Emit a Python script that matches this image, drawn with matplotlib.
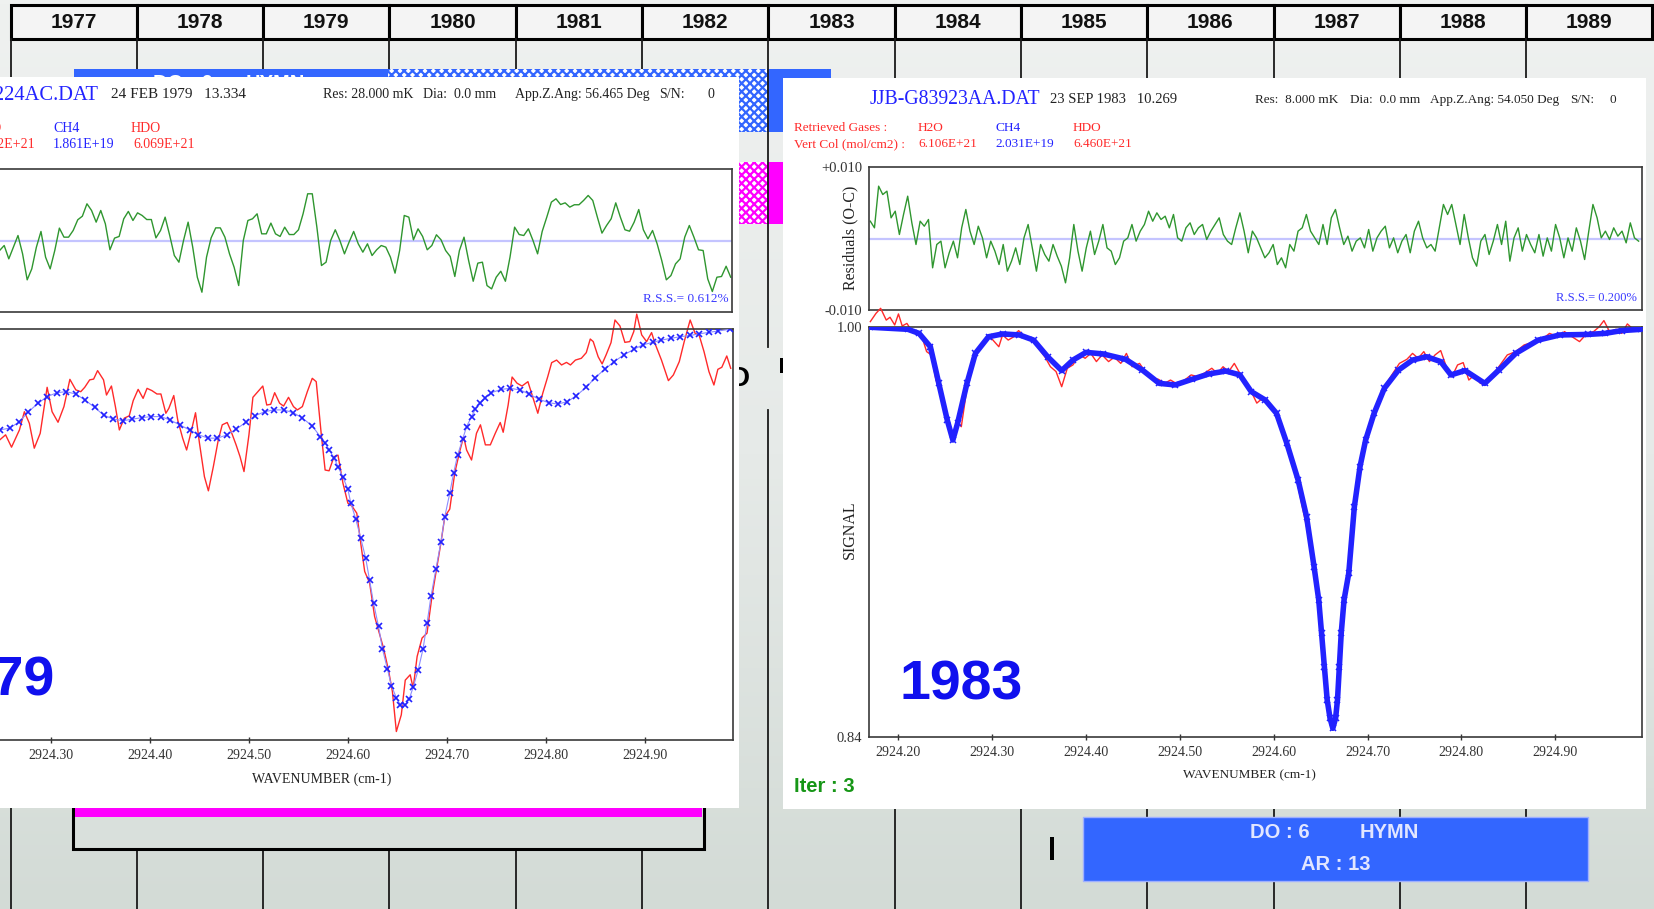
import numpy as np
import matplotlib.pyplot as plt
from matplotlib.patches import Rectangle
from matplotlib.colors import LinearSegmentedColormap

W, H = 1654, 909
plt.rcParams['hatch.linewidth'] = 1.6

years = [str(y) for y in range(1977, 1990)]

# right panel (23 SEP 1983): residuals in units of 1e-3, sampled evenly over 2924.170 - 2924.989
res_r = [2.42, 1.49, 7.32, 6.15, 6.62, 2.89, 3.82, 0.56, 3.36, 5.92, 2.19, -0.84, 2.42, 1.72, 2.66, -4.10,
         -0.84, -0.37, -4.10, -2.00, -0.37, -2.70, 1.49, 4.06, 1.03, -0.84, 1.72, 0.09, -2.70, -0.37, -1.77,
         -3.64, -0.84, -4.57, -3.17, -1.31, -3.64, 0.09, 1.96, -1.31, -4.57, -0.84, -2.24, -3.17, -0.84, -2.47,
         -3.87, -6.20, -2.70, 1.96, -1.77, -4.57, -1.31, 1.03, -2.24, -0.37, 1.96, -1.31, -1.77, -3.64, -2.70,
         -0.37, 0.09, 1.96, -0.37, 1.03, 1.96, 3.82, 2.42, 3.59, 2.66, 3.12, 1.49, 3.36, 0.09, -0.37, 1.49,
         2.19, 0.56, 1.49, 1.96, -0.14, 1.03, 1.96, 2.89, 0.56, -0.37, -0.84, 1.49, 3.59, 1.03, -2.00, 1.03,
         0.09, -1.31, -2.70, -2.00, -0.84, -3.64, -2.70, -4.10, -0.84, -1.77, 1.03, 1.49, 3.36, 1.03, 0.09,
         -0.84, 1.96, -0.84, 2.89, 4.06, 1.49, -0.84, 0.33, -1.77, -0.37, 0.09, -1.31, 1.26, -1.77, 0.09, 1.03,
         1.72, -1.31, 0.09, -2.00, -0.37, 0.56, -2.00, 1.03, 2.42, 0.09, -1.31, -0.84, -1.77, 1.49, 4.76, 3.36,
         4.76, 1.96, -0.84, 3.36, 0.09, -2.70, -3.87, -0.37, 0.56, -2.24, -0.37, 1.96, -0.84, 2.42, -3.17,
         0.09, 1.49, -1.77, 0.56, -0.84, -2.00, 0.56, -2.47, 0.09, -1.77, 1.96, 0.09, -2.70, 0.09, -1.77, 1.49,
         -0.37, -2.94, 1.03, 4.76, 2.89, 0.09, 1.03, -0.14, 1.49, 0.33, 1.03, -0.61, 2.19, 0.09, -0.37]

calc_r_wn = [2924.170, 2924.210, 2924.222, 2924.234, 2924.243, 2924.252, 2924.258, 2924.263, 2924.273, 2924.282,
             2924.296, 2924.311, 2924.329, 2924.344, 2924.359, 2924.374, 2924.386, 2924.400, 2924.418, 2924.442,
             2924.460, 2924.478, 2924.495, 2924.513, 2924.531, 2924.549, 2924.564, 2924.576, 2924.591, 2924.603,
             2924.614, 2924.626, 2924.635, 2924.643, 2924.648, 2924.651, 2924.654, 2924.657, 2924.660, 2924.663,
             2924.666, 2924.668, 2924.670, 2924.672, 2924.675, 2924.680, 2924.686, 2924.692, 2924.698, 2924.707,
             2924.718, 2924.733, 2924.748, 2924.763, 2924.778, 2924.789, 2924.804, 2924.825, 2924.840, 2924.858,
             2924.882, 2924.905, 2924.935, 2924.953, 2924.971, 2924.992]
calc_r = [0.9999, 0.9991, 0.9975, 0.9923, 0.9780, 0.9637, 0.9559, 0.9624, 0.9780, 0.9897,
          0.9962, 0.9973, 0.9969, 0.9949, 0.9884, 0.9830, 0.9871, 0.9901, 0.9895, 0.9874,
          0.9832, 0.9780, 0.9774, 0.9796, 0.9817, 0.9828, 0.9813, 0.9748, 0.9715, 0.9663,
          0.9546, 0.9403, 0.9260, 0.9065, 0.8935, 0.8806, 0.8675, 0.8545, 0.8474, 0.8434,
          0.8474, 0.8545, 0.8675, 0.8806, 0.8935, 0.9039, 0.9299, 0.9455, 0.9559, 0.9663,
          0.9761, 0.9832, 0.9871, 0.9884, 0.9865, 0.9813, 0.9830, 0.9780, 0.9832, 0.9897,
          0.9949, 0.9969, 0.9971, 0.9975, 0.9986, 0.9991]

obs_r_wn = [2924.170, 2924.176, 2924.181, 2924.187, 2924.191, 2924.196, 2924.200, 2924.204, 2924.209, 2924.214,
            2924.219, 2924.225, 2924.230, 2924.235, 2924.240, 2924.246, 2924.252, 2924.258, 2924.263, 2924.267,
            2924.273, 2924.279, 2924.283, 2924.288, 2924.294, 2924.300, 2924.307, 2924.311, 2924.317, 2924.323,
            2924.328, 2924.333, 2924.338, 2924.344, 2924.350, 2924.356, 2924.362, 2924.368, 2924.374, 2924.380,
            2924.386, 2924.393, 2924.399, 2924.405, 2924.411, 2924.417, 2924.424, 2924.430, 2924.437, 2924.443,
            2924.449, 2924.457, 2924.463, 2924.469, 2924.477, 2924.484, 2924.490, 2924.497, 2924.505, 2924.512,
            2924.519, 2924.527, 2924.534, 2924.540, 2924.546, 2924.552, 2924.558, 2924.564, 2924.570, 2924.576,
            2924.582, 2924.588, 2924.594, 2924.600, 2924.606, 2924.611, 2924.617, 2924.623, 2924.629, 2924.635,
            2924.641, 2924.648, 2924.654, 2924.660, 2924.663, 2924.666, 2924.670, 2924.675, 2924.680, 2924.686,
            2924.692, 2924.701, 2924.709, 2924.718, 2924.727, 2924.734, 2924.742, 2924.748, 2924.754, 2924.760,
            2924.766, 2924.772, 2924.778, 2924.784, 2924.790, 2924.796, 2924.802, 2924.808, 2924.814, 2924.820,
            2924.825, 2924.833, 2924.840, 2924.849, 2924.858, 2924.867, 2924.875, 2924.885, 2924.894, 2924.903,
            2924.910, 2924.918, 2924.926, 2924.934, 2924.941, 2924.947, 2924.952, 2924.958, 2924.965, 2924.971,
            2924.977, 2924.984, 2924.992]
obs_r = [1.0021, 1.0053, 1.0073, 1.0027, 1.0038, 1.0008, 1.0051, 1.0004, 1.0014, 0.9986,
         0.9975, 0.9962, 0.9904, 0.9891, 0.9793, 0.9735, 0.9657, 0.9566, 0.9631, 0.9611,
         0.9761, 0.9878, 0.9904, 0.9923, 0.9962, 0.9952, 0.9923, 0.9969, 0.9949, 0.9962,
         0.9986, 0.9969, 0.9956, 0.9949, 0.9913, 0.9884, 0.9845, 0.9826, 0.9767, 0.9839,
         0.9852, 0.9891, 0.9878, 0.9897, 0.9865, 0.9891, 0.9865, 0.9882, 0.9858, 0.9897,
         0.9845, 0.9858, 0.9826, 0.9800, 0.9796, 0.9781, 0.9793, 0.9778, 0.9793, 0.9813,
         0.9806, 0.9822, 0.9839, 0.9819, 0.9845, 0.9826, 0.9858, 0.9819, 0.9787, 0.9748,
         0.9703, 0.9722, 0.9703, 0.9676, 0.9618, 0.9579, 0.9507, 0.9429, 0.9325, 0.9221,
         0.9091, 0.8935, 0.8675, 0.8474, 0.8440, 0.8480, 0.8675, 0.8935, 0.9039, 0.9299,
         0.9455, 0.9584, 0.9689, 0.9767, 0.9819, 0.9858, 0.9874, 0.9897, 0.9878, 0.9904,
         0.9865, 0.9891, 0.9908, 0.9845, 0.9806, 0.9852, 0.9861, 0.9793, 0.9813, 0.9781,
         0.9774, 0.9813, 0.9845, 0.9891, 0.9904, 0.9930, 0.9939, 0.9949, 0.9975, 0.9962,
         0.9982, 0.9962, 0.9943, 0.9975, 0.9982, 1.0001, 1.0025, 0.9982, 0.9991, 0.9975,
         1.0012, 0.9988, 0.9995]

# left panel (24 FEB 1979): residuals in units of 1e-3, sampled evenly over 2924.248 - 2924.988
res_l = [-4.2, -2.1, -7.7, -2.8, 2.1, -5.6, -16.5, -11.9, -2.8, 3.8, -7.0, -11.9, -4.2, 5.2, 1.4, 1.4, 4.2,
         8.7, 10.2, 15.4, 12.6, 7.7, 12.6, 7.0, -3.9, 1.0, 1.7, 9.1, 12.2, 8.4, 11.6, 10.5, 8.8, 8.8, 1.1,
         4.2, 9.8, 2.1, -6.3, -9.1, 0.0, 7.7, -2.8, -15.4, -21.7, -7.0, 1.1, 5.3, 5.3, 1.4, -5.6, -11.2,
         -18.9, 0.0, 8.4, 9.1, 11.2, 2.8, 2.8, 7.3, 2.8, 1.7, 5.6, 2.5, 2.5, 4.5, 11.2, 19.6, 19.6, 5.6,
         -10.5, -9.1, 0.0, 4.5, 0.0, -5.6, -0.7, 3.8, -1.4, -4.9, -1.4, -6.3, -3.9, -2.1, -2.8, -7.0, -13.7,
         -4.2, 10.5, 9.8, 0.3, 4.9, 1.7, -3.9, -2.1, 2.4, 0.3, -4.2, -6.7, -15.1, -4.2, 1.4, -8.4, -17.1,
         -9.5, -9.1, -18.9, -20.3, -15.4, -12.9, -17.1, -7.0, 5.6, 2.5, 2.1, 4.9, 0.0, -5.6, 3.8, 9.8, 16.1,
         17.5, 15.1, 15.8, 14.0, 15.0, 15.0, 16.8, 18.9, 16.8, 9.8, 3.1, 6.3, 9.1, 15.8, 9.8, 4.5, 3.9, 7.7,
         13.0, 4.5, 0.7, 4.2, -1.4, -8.4, -16.5, -14.7, -9.8, -7.7, 1.4, 6.3, 1.4, -3.9, -4.2, -16.1, -21.4,
         -15.4, -15.1, -10.8, -15.4]

calc_l_wn = [2924.248, 2924.258, 2924.268, 2924.277, 2924.287, 2924.296, 2924.306, 2924.315, 2924.325, 2924.334,
             2924.344, 2924.353, 2924.363, 2924.373, 2924.382, 2924.392, 2924.401, 2924.411, 2924.420, 2924.430,
             2924.440, 2924.449, 2924.459, 2924.468, 2924.478, 2924.487, 2924.497, 2924.506, 2924.516, 2924.525,
             2924.535, 2924.545, 2924.554, 2924.564, 2924.572, 2924.577, 2924.581, 2924.586, 2924.590, 2924.595,
             2924.600, 2924.603, 2924.608, 2924.613, 2924.618, 2924.622, 2924.626, 2924.631, 2924.635, 2924.640,
             2924.644, 2924.649, 2924.653, 2924.658, 2924.662, 2924.666, 2924.671, 2924.676, 2924.680, 2924.684,
             2924.689, 2924.694, 2924.698, 2924.703, 2924.707, 2924.711, 2924.716, 2924.720, 2924.725, 2924.729,
             2924.734, 2924.739, 2924.745, 2924.755, 2924.764, 2924.774, 2924.783, 2924.793, 2924.803, 2924.812,
             2924.822, 2924.831, 2924.841, 2924.850, 2924.860, 2924.869, 2924.879, 2924.889, 2924.898, 2924.908,
             2924.917, 2924.927, 2924.936, 2924.946, 2924.955, 2924.965, 2924.974, 2924.986]
calc_l = [0.9607, 0.9614, 0.9639, 0.9678, 0.9711, 0.9737, 0.9752, 0.9756, 0.9747, 0.9724,
          0.9695, 0.9665, 0.9649, 0.9643, 0.9649, 0.9655, 0.9659, 0.9659, 0.9646, 0.9627,
          0.9607, 0.9588, 0.9575, 0.9575, 0.9588, 0.9610, 0.9637, 0.9662, 0.9678, 0.9685,
          0.9685, 0.9674, 0.9653, 0.9623, 0.9581, 0.9558, 0.9529, 0.9499, 0.9464, 0.9423,
          0.9376, 0.9322, 0.9260, 0.9186, 0.9108, 0.9021, 0.8932, 0.8842, 0.8754, 0.8676,
          0.8612, 0.8564, 0.8537, 0.8537, 0.8559, 0.8606, 0.8671, 0.8755, 0.8854, 0.8959,
          0.9065, 0.9169, 0.9270, 0.9361, 0.9441, 0.9510, 0.9571, 0.9620, 0.9659, 0.9689,
          0.9711, 0.9733, 0.9752, 0.9765, 0.9769, 0.9763, 0.9747, 0.9727, 0.9713, 0.9708,
          0.9717, 0.9741, 0.9773, 0.9811, 0.9844, 0.9873, 0.9899, 0.9921, 0.9938, 0.9948,
          0.9957, 0.9964, 0.9970, 0.9975, 0.9981, 0.9987, 0.9992, 0.9999]

obs_l_wn = [2924.248, 2924.254, 2924.260, 2924.268, 2924.273, 2924.278, 2924.283, 2924.289, 2924.296, 2924.301,
            2924.307, 2924.313, 2924.319, 2924.325, 2924.330, 2924.334, 2924.339, 2924.343, 2924.347, 2924.353,
            2924.356, 2924.361, 2924.365, 2924.369, 2924.374, 2924.379, 2924.383, 2924.388, 2924.393, 2924.397,
            2924.402, 2924.407, 2924.411, 2924.416, 2924.419, 2924.424, 2924.428, 2924.433, 2924.437, 2924.442,
            2924.446, 2924.450, 2924.455, 2924.459, 2924.464, 2924.469, 2924.473, 2924.478, 2924.482, 2924.487,
            2924.491, 2924.495, 2924.500, 2924.504, 2924.509, 2924.514, 2924.518, 2924.522, 2924.526, 2924.531,
            2924.535, 2924.540, 2924.545, 2924.549, 2924.554, 2924.559, 2924.564, 2924.568, 2924.573, 2924.577,
            2924.581, 2924.586, 2924.590, 2924.595, 2924.600, 2924.604, 2924.609, 2924.613, 2924.617, 2924.622,
            2924.627, 2924.636, 2924.641, 2924.645, 2924.649, 2924.654, 2924.658, 2924.663, 2924.666, 2924.670,
            2924.675, 2924.680, 2924.685, 2924.689, 2924.694, 2924.698, 2924.703, 2924.708, 2924.713, 2924.717,
            2924.720, 2924.725, 2924.730, 2924.734, 2924.739, 2924.744, 2924.749, 2924.754, 2924.757, 2924.762,
            2924.766, 2924.771, 2924.776, 2924.782, 2924.787, 2924.792, 2924.797, 2924.802, 2924.806, 2924.811,
            2924.816, 2924.821, 2924.825, 2924.830, 2924.836, 2924.841, 2924.845, 2924.848, 2924.853, 2924.857,
            2924.861, 2924.866, 2924.870, 2924.875, 2924.880, 2924.885, 2924.889, 2924.892, 2924.897, 2924.902,
            2924.907, 2924.911, 2924.917, 2924.924, 2924.929, 2924.935, 2924.940, 2924.946, 2924.951, 2924.955,
            2924.960, 2924.965, 2924.970, 2924.974, 2924.978, 2924.983, 2924.987]
obs_l = [0.9568, 0.9588, 0.9540, 0.9607, 0.9678, 0.9633, 0.9536, 0.9594, 0.9773, 0.9678,
         0.9637, 0.9698, 0.9804, 0.9763, 0.9756, 0.9773, 0.9802, 0.9805, 0.9838, 0.9802,
         0.9743, 0.9778, 0.9698, 0.9607, 0.9653, 0.9662, 0.9721, 0.9765, 0.9730, 0.9769,
         0.9760, 0.9747, 0.9747, 0.9672, 0.9691, 0.9741, 0.9646, 0.9575, 0.9529, 0.9607,
         0.9674, 0.9555, 0.9425, 0.9370, 0.9464, 0.9568, 0.9627, 0.9636, 0.9601, 0.9549,
         0.9503, 0.9445, 0.9588, 0.9734, 0.9756, 0.9778, 0.9704, 0.9707, 0.9752, 0.9711,
         0.9700, 0.9734, 0.9698, 0.9685, 0.9698, 0.9756, 0.9808, 0.9795, 0.9594, 0.9451,
         0.9448, 0.9503, 0.9509, 0.9400, 0.9322, 0.9311, 0.9283, 0.9166, 0.9056, 0.9011,
         0.8881, 0.8758, 0.8673, 0.8589, 0.8433, 0.8498, 0.8633, 0.8654, 0.8602, 0.8725,
         0.8797, 0.8816, 0.8959, 0.9050, 0.9166, 0.9270, 0.9299, 0.9439, 0.9523, 0.9581,
         0.9529, 0.9490, 0.9594, 0.9627, 0.9549, 0.9549, 0.9594, 0.9636, 0.9598, 0.9704,
         0.9813, 0.9789, 0.9778, 0.9795, 0.9734, 0.9672, 0.9750, 0.9814, 0.9869, 0.9879,
         0.9860, 0.9870, 0.9860, 0.9879, 0.9886, 0.9908, 0.9961, 0.9951, 0.9892, 0.9864,
         0.9899, 0.9947, 1.0035, 1.0012, 0.9948, 0.9951, 0.9990, 1.0058, 0.9977, 0.9951,
         0.9986, 0.9938, 0.9879, 0.9799, 0.9821, 0.9873, 0.9951, 1.0035, 0.9983, 0.9977,
         0.9912, 0.9834, 0.9782, 0.9843, 0.9851, 0.9895, 0.9847]

wn_ticks = [2924.20, 2924.30, 2924.40, 2924.50, 2924.60, 2924.70, 2924.80, 2924.90]

SERIF = 'Liberation Serif'
SANS = 'Liberation Sans'
RED = '#ff2a2a'
BLUE = '#2222ff'
GREEN = '#2f962f'

fig = plt.figure(figsize=(W / 100, H / 100), dpi=100)


def px_axes(x0, y0, x1, y1):
    return fig.add_axes([x0 / W, 1 - y1 / H, (x1 - x0) / W, (y1 - y0) / H])


# ---- slide background (timeline) ----
bg = px_axes(0, 0, W, H)
bg.set_xlim(0, W)
bg.set_ylim(H, 0)
bg.axis('off')
cmap = LinearSegmentedColormap.from_list('bg', ['#eff1f0', '#e6eae8', '#d3dbd6'])
bg.imshow(np.linspace(0, 1, 256)[:, None], extent=(0, W, H, 0), aspect='auto', cmap=cmap, zorder=0)

col_w = 126.3
col_x = [10.5 + i * col_w for i in range(len(years) + 1)]
for i, yr in enumerate(years):
    bg.add_patch(Rectangle((col_x[i], 5), col_w, 34, facecolor='#f4f4f4', edgecolor='black', lw=2.2, zorder=1))
    bg.text(col_x[i] + col_w / 2, 22, yr, ha='center', va='center', fontsize=15, fontweight='bold',
            family=SANS, color='#111111', zorder=2)

for x in col_x[:-1]:
    if abs(x - 767) < 3:
        bg.plot([x, x], [39, 347], color='#1a1a1a', lw=1.3, zorder=4)
        bg.plot([x, x], [410, H], color='#1a1a1a', lw=1.3, zorder=4)
    else:
        bg.plot([x, x], [39, H], color='#1a1a1a', lw=1.3, zorder=2)

# coloured bars behind the panels
for y0, h, col in [(69, 63, '#3366ff'), (162, 62, '#ff00ff')]:
    bg.add_patch(Rectangle((74, y0), 314, h, facecolor=col, lw=0, zorder=3))
    bg.add_patch(Rectangle((388, y0), 379, h, facecolor='white', edgecolor=col, hatch='xxxx', lw=0, zorder=3))
    bg.add_patch(Rectangle((767, y0), 64, h, facecolor=col, lw=0, zorder=3))
bg.text(153, 74, 'DO : 6', ha='left', va='top', fontsize=14.5, fontweight='bold', family=SANS,
        color='white', zorder=3.5)
bg.text(246, 74, 'HYMN', ha='left', va='top', fontsize=14.5, fontweight='bold', family=SANS,
        color='white', zorder=3.5)

# fragments of hidden slide text
bg.text(749, 379, 'D', ha='right', va='center', fontsize=20, fontweight='bold', family=SANS,
        color='black', zorder=4.5)
bg.add_patch(Rectangle((780, 358), 4, 15, facecolor='black', lw=0, zorder=4.5))
bg.add_patch(Rectangle((1050, 837), 4, 23, facecolor='black', lw=0, zorder=4.5))

# boxes at the bottom
bg.add_patch(Rectangle((73, 690), 631, 159, facecolor='#d9e0dc', edgecolor='black', lw=2.2, zorder=5))
bg.add_patch(Rectangle((75, 700), 627, 117, facecolor='#ff00ff', lw=0, zorder=5.1))
bg.add_patch(Rectangle((1083, 817), 505, 64, facecolor='#3366ff', edgecolor='#9fb0ff', lw=1, zorder=5))
for txt, x, y in [('DO : 6', 1280, 833), ('HYMN', 1389, 833), ('AR : 13', 1336, 865)]:
    bg.text(x, y, txt, ha='center', va='center', fontsize=14.5, fontweight='bold', family=SANS,
            color='#e2e6ff', zorder=5.5)

# white screenshot panels
bg.add_patch(Rectangle((-20, 77), 759, 731, facecolor='white', lw=0, zorder=6))
bg.add_patch(Rectangle((783, 78), 863, 731, facecolor='white', lw=0, zorder=6))


def style_axes(ax, xlim):
    ax.set_xlim(*xlim)
    for s in ax.spines.values():
        s.set_color('#3a3a3a')
        s.set_linewidth(1.2)
    ax.tick_params(axis='y', length=0, labelsize=10.5, labelcolor='#333333', pad=5)
    for lab in ax.get_yticklabels():
        lab.set_family(SERIF)


def residual_panel(ax, xlim, start, stop, res, scale):
    wn = np.linspace(start, stop, len(res))
    ax.axhline(0, color='#c4c4ff', lw=1.6, zorder=1)
    ax.plot(wn, np.array(res) * 1e-3, color=GREEN, lw=1.0, zorder=2)
    ax.set_ylim(-scale, scale)
    ax.set_xticks([])
    ax.set_yticks([scale, -scale])
    ax.set_yticklabels(['+%.3f' % scale, '-%.3f' % scale])
    style_axes(ax, xlim)


def spectrum_panel(ax, xlim, obs_wn, obs, calc_wn, calc, thick):
    ax.plot(obs_wn, obs, color=RED, lw=1.0, zorder=2, clip_on=False)
    if thick:
        ax.plot(calc_wn, calc, color=BLUE, lw=4, marker='x', ms=4, mew=1.1, zorder=3)
    else:
        ax.plot(calc_wn, calc, color='#8c8cff', lw=0.8, marker='x', ms=4.5, mew=1.2, mec=BLUE, zorder=3)
    ax.set_ylim(0.84, 1.00)
    ax.set_yticks([0.84, 1.00])
    ax.set_yticklabels(['0.84', '1.00'])
    ticks = [t for t in wn_ticks if xlim[0] < t < xlim[1]]
    ax.set_xticks(ticks)
    ax.set_xticklabels(['%.2f' % t for t in ticks])
    style_axes(ax, xlim)
    ax.tick_params(axis='x', direction='inout', length=5, width=1.0, color='#333333',
                   labelsize=10, labelcolor='#333333', pad=4)
    for lab in ax.get_xticklabels():
        lab.set_family(SERIF)


# ---- left panel (1979) ----
xl_left = (2924.2059, 2924.9893)
ax = px_axes(-42, 169, 732, 312)
residual_panel(ax, xl_left, 2924.248, 2924.988, res_l, 0.030)
ax = px_axes(-42, 329, 733, 740)
spectrum_panel(ax, xl_left, obs_l_wn, obs_l, calc_l_wn, calc_l, thick=False)

# ---- right panel (1983) ----
xl_right = (2924.1686, 2924.9926)
ax = px_axes(869, 167, 1642, 310)
residual_panel(ax, xl_right, 2924.170, 2924.989, res_r, 0.010)
ax = px_axes(869, 327, 1642, 737)
spectrum_panel(ax, xl_right, obs_r_wn, obs_r, calc_r_wn, calc_r, thick=True)

# ---- panel texts ----
ov = px_axes(0, 0, W, H)
ov.set_xlim(0, W)
ov.set_ylim(H, 0)
ov.axis('off')
ov.patch.set_alpha(0)


def t(x, y, s, size, color='#222222', ha='left', va='baseline', **kw):
    kw.setdefault('family', SERIF)
    ov.text(x, y, s, fontsize=size, color=color, ha=ha, va=va, **kw)


# headers
t(99, 100, 'JJB-G79224AC.DAT', 14.8, BLUE, ha='right')
t(111, 98, '24 FEB 1979   13.334', 11)
t(323, 98, 'Res: 28.000 mK', 10)
t(423, 98, 'Dia:  0.0 mm', 10)
t(515, 98, 'App.Z.Ang: 56.465 Deg', 10)
t(659, 98, 'S/N:', 10)
t(707, 98, '0', 10)
t(870, 104, 'JJB-G83923AA.DAT', 14.2, BLUE)
t(1050, 103, '23 SEP 1983   10.269', 10.5)
t(1255, 103, 'Res:  8.000 mK', 9.5)
t(1350, 103, 'Dia:  0.0 mm', 9.5)
t(1430, 103, 'App.Z.Ang: 54.050 Deg', 9.5)
t(1570, 103, 'S/N:', 9.5)
t(1610, 103, '0', 9.5)

# retrieved gases
gases = ['H2O', 'CH4', 'HDO']
gas_cols = [RED, BLUE, RED]
cols_l = ['6.132E+21', '1.861E+19', '6.069E+21']
cols_r = ['6.106E+21', '2.031E+19', '6.460E+21']
t(-150, 132, 'Retrieved Gases :', 10, RED)
t(-150, 148, 'Vert Col (mol/cm2) :', 10, RED)
for i, (g, c) in enumerate(zip(gases, gas_cols)):
    t(-25 + i * 78, 132, g, 10, c)
    t(-27 + i * 80, 148, cols_l[i], 10, c)
t(794, 131, 'Retrieved Gases :', 9.5, RED)
t(794, 147, 'Vert Col (mol/cm2) :', 9.5, RED)
for i, (g, c) in enumerate(zip(gases, gas_cols)):
    t(918 + i * 77.5, 131, g, 9.5, c)
    t(918 + i * 77.5, 147, cols_r[i], 9.5, c)

# axis titles and annotations
t(850, 238, 'Residuals (O-C)', 11.5, ha='center', va='center', rotation=90)
t(850, 530, 'SIGNAL', 11.5, ha='center', va='center', rotation=90)
t(729, 299, 'R.S.S.= 0.612%', 9.5, '#3a3aff', ha='right', va='center')
t(1637, 298, 'R.S.S.= 0.200%', 9, '#3a3aff', ha='right', va='center')
t(322, 779, 'WAVENUMBER (cm-1)', 10, ha='center', va='center')
t(1249, 775, 'WAVENUMBER (cm-1)', 9.5, ha='center', va='center')

t(55, 682, '1979', 40, '#1010ee', ha='right', va='center', fontweight='bold', family=SANS)
t(961, 685, '1983', 40, '#1010ee', ha='center', va='center', fontweight='bold', family=SANS)
t(794, 786, 'Iter : 3', 14.5, '#169616', va='center', fontweight='bold', family=SANS)

fig.savefig('out.png', dpi=100)
